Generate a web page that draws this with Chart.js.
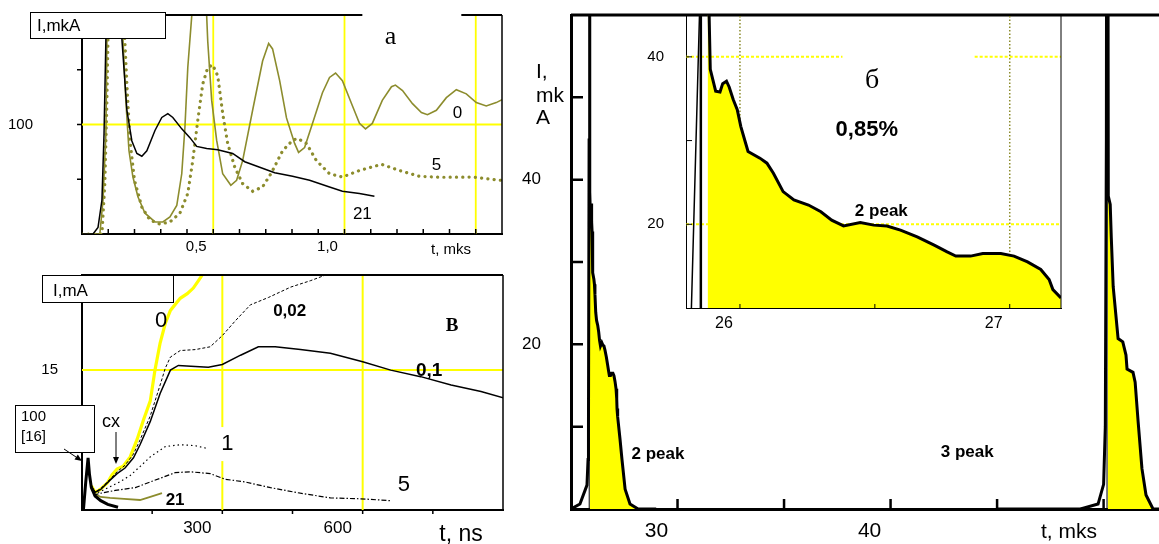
<!DOCTYPE html>
<html>
<head>
<meta charset="utf-8">
<script src="https://cdn.jsdelivr.net/npm/chart.js@4.4.1/dist/chart.umd.min.js"></script>
<style>
  body { margin: 0; background: #fff; }
  #fig { position: relative; width: 1159px; height: 544px; overflow: hidden; background: #fff; }
  #fig canvas { position: absolute; }
</style>
</head>
<body>
<div id="fig">
  <canvas id="cA"></canvas>
  <canvas id="cB"></canvas>
  <canvas id="cMain"></canvas>
  <canvas id="cInset"></canvas>
</div>
<script>
// ---- panel a : I, mkA vs t, mks ----
const aXLabels = [0.5, 1.0];
const aYLabels = [100];
const a0T  = [0, 0.06, 0.068, 0.08, 0.091, 0.095, 0.12, 0.15, 0.156, 0.167, 0.179, 0.194, 0.213, 0.24, 0.278, 0.308, 0.335, 0.361, 0.38, 0.392, 0.403, 0.418, 0.43, 0.465, 0.475, 0.479, 0.494, 0.513, 0.536, 0.567, 0.589, 0.612, 0.65, 0.688, 0.711, 0.726, 0.753, 0.779, 0.81, 0.825, 0.848, 0.878, 0.916, 0.943, 0.966, 0.992, 1.027, 1.057, 1.08, 1.106, 1.144, 1.179, 1.194, 1.221, 1.259, 1.293, 1.316, 1.35, 1.388, 1.426, 1.464, 1.502, 1.54, 1.578, 1.6];
const a0I  = [0, 0, 0, 31, 92, 178, 260, 260, 178, 122, 76, 52, 34, 19, 11, 11, 15.5, 26, 55, 97, 152, 199, 260, 260, 199, 176, 122, 85.5, 55, 44.5, 49, 67, 113, 158, 174, 169, 140, 106, 82.7, 74.5, 79, 101, 129, 143, 147, 140, 119, 101, 96, 101, 122, 134.5, 136, 131, 119, 111, 109, 113, 124.5, 131.8, 128, 120, 117, 120, 122.7];
const a5T  = [0, 0.07, 0.076, 0.087, 0.095, 0.099, 0.12, 0.155, 0.163, 0.171, 0.183, 0.2, 0.228, 0.259, 0.297, 0.335, 0.373, 0.403, 0.422, 0.441, 0.46, 0.479, 0.498, 0.517, 0.536, 0.555, 0.582, 0.612, 0.65, 0.688, 0.722, 0.764, 0.802, 0.821, 0.855, 0.893, 0.943, 0.992, 1.057, 1.141, 1.209, 1.285, 1.373, 1.487, 1.597];
const a5I  = [0, 0, 0, 46, 122, 178, 260, 260, 178, 137, 85, 49, 24.5, 12.7, 9, 11, 19, 37, 67, 103.6, 137, 152, 154.5, 144.5, 110, 82.7, 61, 46, 39, 43, 56, 76, 85.5, 87.3, 82.7, 67, 55, 52, 58, 63.6, 58, 52.7, 51.8, 52, 49];
const a21T = [0, 0.042, 0.061, 0.076, 0.084, 0.091, 0.1, 0.14, 0.152, 0.171, 0.19, 0.209, 0.228, 0.247, 0.278, 0.304, 0.327, 0.346, 0.38, 0.411, 0.437, 0.475, 0.517, 0.574, 0.62, 0.677, 0.734, 0.802, 0.867, 0.943, 0.992, 1.057, 1.114];
const a21I = [0, 0, 6, 31, 92, 178, 260, 260, 178, 113, 85, 73.6, 71, 76, 94.5, 106.4, 110, 106.4, 96, 88, 80, 78, 77, 73.6, 66, 61, 56, 52.7, 49, 43, 39, 37, 34.5];

// ---- panel в : I, mA vs t, ns ----
const bXLabels = [300, 600];
const bYLabels = [15];
const b16T  = [0, 3, 8, 13, 16, 20, 28, 40, 55, 77];
const b16I  = [0, 0, 3, 5.6, 3.8, 2.4, 1.5, 1.0, 0.6, 0.3];
const b0T   = [20, 28, 39, 54, 64, 75, 88, 103, 118, 131, 146, 156, 167, 178, 189, 210, 225, 238, 249, 257, 265];
const b0I   = [2.6, 1.9, 2.2, 2.9, 3.75, 4.4, 4.7, 5.7, 7.6, 9.6, 11.7, 15.0, 17.9, 20.0, 21.4, 22.7, 23.2, 23.8, 24.6, 25.2, 26.0];
const b002T = [20, 28, 40, 60, 75, 92, 110, 124, 146, 167, 178, 189, 210, 242, 274, 300, 328, 360, 399, 446, 489, 521, 540];
const b002I = [2.6, 1.9, 2.3, 3.3, 4.1, 4.8, 6.0, 7.5, 10.1, 13.4, 15.2, 16.4, 17.1, 17.2, 17.5, 18.7, 20.3, 22.0, 22.8, 23.9, 24.6, 25.2, 25.6];
const b01T  = [20, 28, 40, 60, 75, 92, 110, 124, 146, 167, 189, 206, 242, 270, 300, 339, 377, 413, 467, 531, 600, 660, 724, 789, 853, 902];
const b01I  = [2.6, 1.9, 2.2, 3.2, 3.9, 4.5, 5.6, 7.0, 9.5, 12.5, 15.0, 15.5, 15.4, 15.3, 15.6, 16.6, 17.5, 17.5, 17.2, 16.8, 15.9, 15.0, 14.3, 13.4, 12.7, 12.0];
const b1T   = [25, 40, 60, 80, 103, 125, 146, 178, 210, 242, 268];
const b1I   = [1.7, 2.0, 2.5, 3.0, 3.7, 4.7, 5.7, 6.8, 7.0, 6.9, 6.6];
const b5T   = [25, 40, 71, 114, 140, 167, 199, 231, 274, 306, 349, 403, 467, 531, 596, 660];
const b5I   = [1.6, 1.8, 2.1, 2.4, 2.9, 3.4, 4.0, 4.1, 3.9, 3.3, 3.0, 2.4, 1.8, 1.3, 1.2, 1.0];
const b21T  = [28, 40, 60, 90, 124, 146, 171];
const b21I  = [1.7, 1.4, 1.3, 1.2, 1.07, 1.4, 1.8];

// ---- panel б : I, mkA vs t, mks (main + inset) ----
const mainXLabels = [30, 40];
const mainYLabels = [20, 40];
const insetXLabels = [26, 27];
const insetYLabels = [20, 40];
const markT = [25.855, 50.16];
const p2RiseT = [25.0, 25.42, 25.75, 25.8, 25.82, 25.85, 25.865];
const p2RiseI = [0, 0.6, 2.9, 6, 10, 45, 150];
const p2T = [25.88, 25.885, 25.89, 25.91, 25.926, 25.936, 25.95, 25.96, 25.975, 25.99, 26.003, 26.02, 26.03, 26.074, 26.1, 26.124, 26.16, 26.2, 26.254, 26.3, 26.34, 26.384, 26.446, 26.496, 26.545, 26.595, 26.657, 26.72, 26.768, 26.8, 26.855, 26.9, 26.967, 27.016, 27.066, 27.115, 27.146, 27.16, 27.19, 27.3, 27.39, 27.54, 27.77, 28.15, 29.0];
const p2I = [150, 46, 38.5, 35.9, 35.8, 36.8, 37.1, 36.4, 34.9, 33.7, 31.7, 29.8, 28.7, 27.9, 27.3, 26.1, 23.9, 22.9, 22.3, 21.5, 20.5, 19.8, 20.2, 19.9, 19.8, 19.3, 18.5, 17.5, 16.7, 16.2, 16.2, 16.5, 16.5, 16.2, 15.5, 14.6, 13.4, 12.2, 11.2, 8.5, 6.1, 2.4, 0.6, 0, 0];
const p3RiseT = [45.0, 48.9, 49.04, 49.74, 50.0, 50.08, 50.13, 50.17];
const p3RiseI = [0, 0, 0.1, 0.6, 3, 10, 45, 150];
const p3T = [50.19, 50.22, 50.31, 50.36, 50.45, 50.68, 50.9, 51.05, 51.1, 51.38, 51.48, 51.62, 51.8, 51.99, 52.32, 52.6];
const p3I = [150, 38, 37, 33, 27, 20.7, 20.3, 18.7, 17.0, 16.6, 15.4, 10.6, 4.9, 1.7, 0, 0];

const SANS = "'Liberation Sans', Arial, sans-serif";
const SERIF = "'Liberation Serif', 'Times New Roman', serif";
const YEL = '#ffff00';
const OLIVE = '#8c8c2d';

Chart.defaults.font.family = SANS;
Chart.defaults.color = '#000';
Chart.defaults.animation = false;
Chart.defaults.events = [];

function pts(t, v) { return t.map((x, i) => ({ x: x, y: v[i] })); }

function line(data, color, width, dash, extra) {
  return Object.assign({
    data: data, borderColor: color, borderWidth: width, borderDash: dash || [],
    pointRadius: 0, tension: 0, fill: false
  }, extra || {});
}

function vline(x, y0, y1, width) {
  return line([{ x: x, y: y0 }, { x: x, y: y1 }], '#000', width);
}

function area(data) {
  return line(data, 'rgba(0,0,0,0)', 0, [], { fill: 'start', backgroundColor: YEL });
}

// drawing helpers for the decorations of the figure
function figPlugin(box, f) {
  const at = (ch, p) => p.c === 'px'
    ? [p.x - box.x, p.y - box.y]
    : [ch.scales.x.getPixelForValue(p.x), ch.scales.y.getPixelForValue(p.y)];

  function note(ctx, ch, n) {
    const [x, y] = at(ch, n);
    ctx.save();
    ctx.font = n.font;
    ctx.textAlign = n.align || 'center';
    ctx.textBaseline = 'middle';
    if (n.bg) {
      ctx.fillStyle = '#fff';
      ctx.fillRect(x - n.bg[0] / 2, y - n.bg[1] / 2, n.bg[0], n.bg[1]);
    }
    ctx.fillStyle = '#000';
    ctx.fillText(n.text, x, y);
    ctx.restore();
  }

  function arrow(ctx, a) {
    const x1 = a.x1 - box.x, y1 = a.y1 - box.y, x2 = a.x2 - box.x, y2 = a.y2 - box.y;
    const ang = Math.atan2(y2 - y1, x2 - x1), L = 7, W = 3;
    const bx = x2 - L * Math.cos(ang), by = y2 - L * Math.sin(ang);
    ctx.save();
    ctx.strokeStyle = '#000'; ctx.fillStyle = '#000'; ctx.lineWidth = 1;
    ctx.beginPath(); ctx.moveTo(x1, y1); ctx.lineTo(bx, by); ctx.stroke();
    ctx.beginPath();
    ctx.moveTo(x2, y2);
    ctx.lineTo(bx + W * Math.sin(ang), by - W * Math.cos(ang));
    ctx.lineTo(bx - W * Math.sin(ang), by + W * Math.cos(ang));
    ctx.closePath(); ctx.fill();
    ctx.restore();
  }

  return {
    id: 'fig',
    beforeDraw(ch) {
      if (!f.blank) return;
      const a = ch.chartArea, ctx = ch.ctx;
      ctx.save();
      ctx.fillStyle = '#fff';
      ctx.fillRect(a.left, a.top + 2, a.right - a.left, a.bottom - a.top - 2);
      ctx.restore();
    },
    beforeDatasetsDraw(ch) {
      const ctx = ch.ctx, sx = ch.scales.x, sy = ch.scales.y;
      (f.refs || []).forEach(r => {
        ctx.save();
        ctx.strokeStyle = r.color; ctx.lineWidth = r.width; ctx.setLineDash(r.dash || []);
        ctx.beginPath();
        if (r.axis === 'x') {
          const p = sx.getPixelForValue(r.at);
          ctx.moveTo(p, sy.getPixelForValue(r.from !== undefined ? r.from : sy.min));
          ctx.lineTo(p, sy.getPixelForValue(r.to !== undefined ? r.to : sy.max));
        } else {
          const p = sy.getPixelForValue(r.at);
          ctx.moveTo(sx.getPixelForValue(r.from !== undefined ? r.from : sx.min), p);
          ctx.lineTo(sx.getPixelForValue(r.to !== undefined ? r.to : sx.max), p);
        }
        ctx.stroke();
        ctx.restore();
      });
      (f.notes || []).filter(n => n.bg).forEach(n => note(ctx, ch, n));
    },
    afterDatasetsDraw(ch) {
      const ctx = ch.ctx, a = ch.chartArea;
      (f.frame || []).forEach(s => {
        const [x1, y1] = at(ch, { x: s[0], y: s[1] });
        const [x2, y2] = at(ch, { x: s[2], y: s[3] });
        ctx.save();
        ctx.strokeStyle = '#000'; ctx.lineWidth = s[4];
        ctx.beginPath(); ctx.moveTo(x1, y1); ctx.lineTo(x2, y2); ctx.stroke();
        ctx.restore();
      });
      (f.ticks || []).forEach(tk => {
        const s = ch.scales[tk.axis];
        ctx.save();
        ctx.strokeStyle = '#000'; ctx.lineWidth = tk.width;
        ctx.beginPath();
        s.ticks.forEach(t => {
          if (Math.abs(t.value - s.min) < 1e-6 || Math.abs(t.value - s.max) < 1e-6) return;
          const p = s.getPixelForValue(t.value);
          if (tk.axis === 'x') { ctx.moveTo(p, a.bottom); ctx.lineTo(p, a.bottom + tk.dir * tk.len); }
          else { ctx.moveTo(a.left, p); ctx.lineTo(a.left + tk.dir * tk.len, p); }
        });
        ctx.stroke();
        ctx.restore();
      });
      (f.notes || []).filter(n => !n.bg).forEach(n => note(ctx, ch, n));
      (f.boxes || []).forEach(b => {
        ctx.save();
        ctx.fillStyle = '#fff'; ctx.strokeStyle = '#000'; ctx.lineWidth = 1;
        ctx.fillRect(b.x - box.x, b.y - box.y, b.w, b.h);
        ctx.strokeRect(b.x - box.x + 0.5, b.y - box.y + 0.5, b.w, b.h);
        ctx.fillStyle = '#000'; ctx.font = b.font; ctx.textAlign = 'left'; ctx.textBaseline = 'middle';
        b.lines.forEach(l => ctx.fillText(l[0], l[1] - box.x, l[2] - box.y));
        ctx.restore();
      });
      (f.arrows || []).forEach(ar => arrow(ctx, ar));
    }
  };
}

function makeChart(id, box, ar, s) {
  const cv = document.getElementById(id);
  cv.width = box.w; cv.height = box.h;
  cv.style.left = box.x + 'px'; cv.style.top = box.y + 'px';
  const yW = ar.l - box.x, xH = box.y + box.h - ar.b;
  const pick = (list, fmt) => v => list.some(l => Math.abs(l - v) < 1e-6) ? fmt(v) : '';
  return new Chart(cv, {
    type: 'line',
    data: { datasets: s.datasets },
    options: {
      responsive: false,
      animation: false,
      layout: { padding: { left: 0, top: ar.t - box.y, right: box.x + box.w - ar.r, bottom: 0 } },
      scales: {
        x: {
          type: 'linear', min: s.x.min, max: s.x.max,
          grid: { display: false, drawTicks: false },
          border: { display: true, color: '#000', width: s.x.bw },
          ticks: {
            stepSize: s.x.step, autoSkip: false, maxRotation: 0, includeBounds: false,
            font: { size: s.x.fs }, padding: s.x.pad, labelOffset: s.x.off, color: '#000',
            callback: pick(s.x.labels, s.x.fmt || String)
          },
          afterFit: sc => { sc.height = xH; sc.paddingLeft = 0; sc.paddingRight = 0; }
        },
        y: {
          type: 'linear', min: s.y.min, max: s.y.max,
          grid: { display: false, drawTicks: false },
          border: { display: true, color: '#000', width: s.y.bw },
          ticks: {
            stepSize: s.y.step, autoSkip: false, includeBounds: false,
            font: { size: s.y.fs }, padding: s.y.pad, color: '#000',
            callback: pick(s.y.labels, String)
          },
          afterFit: sc => { sc.width = yW; sc.paddingTop = 0; sc.paddingBottom = 0; }
        }
      },
      plugins: { legend: { display: false }, tooltip: { enabled: false } }
    },
    plugins: [figPlugin(box, s.fig)]
  });
}

const f = (size, fam, bold) => (bold ? 'bold ' : '') + size + 'px ' + (fam || SANS);

// panel a
makeChart('cA', { x: 0, y: 0, w: 512, h: 270 }, { l: 82, t: 15, r: 502, b: 234 }, {
  datasets: [
    line(pts(a21T, a21I), '#000', 1.5),
    line(pts(a0T, a0I), OLIVE, 1.6),
    line(pts(a5T, a5I), OLIVE, 3.2, [0.1, 6.2], { borderCapStyle: 'round' })
  ],
  x: { min: 0, max: 1.6, step: 0.1, labels: aXLabels, fmt: v => v.toFixed(1).replace('.', ','), fs: 15, pad: 4, off: -17, bw: 2 },
  y: { min: 0, max: 200, step: 50, labels: aYLabels, fs: 15, pad: 49, bw: 2 },
  fig: {
    refs: [
      { axis: 'x', at: 0.5, color: YEL, width: 1.8 },
      { axis: 'x', at: 1.0, color: YEL, width: 1.8 },
      { axis: 'x', at: 1.5, color: YEL, width: 1.8 },
      { axis: 'y', at: 100, color: YEL, width: 1.8 }
    ],
    frame: [[0, 200, 1.068, 200, 2], [1.445, 200, 1.6, 200, 2], [1.6, 0, 1.6, 200, 1.5]],
    ticks: [{ axis: 'x', dir: -1, len: 5, width: 1.5 }, { axis: 'y', dir: -1, len: 5, width: 1.5 }],
    notes: [
      { text: '0', x: 1.43, y: 110, font: f(17) },
      { text: '5', x: 1.35, y: 62.7, font: f(17) },
      { text: '21', x: 1.068, y: 18.2, font: f(17) },
      { text: 'a', x: 1.175, y: 180, font: f(26, SERIF) },
      { text: 't, mks', x: 451, y: 250, c: 'px', font: f(15) }
    ],
    boxes: [{ x: 30, y: 12, w: 135, h: 26, font: f(17), lines: [['I,mkA', 37, 26]] }]
  }
});

// panel в
makeChart('cB', { x: 0, y: 270, w: 512, h: 274 }, { l: 82, t: 275, r: 503, b: 510 }, {
  datasets: [
    line(pts(b16T, b16I), '#000', 3),
    line(pts(b01T, b01I), '#000', 1.5),
    line(pts(b002T, b002I), '#000', 1, [3, 2]),
    line(pts(b1T, b1I), '#000', 1.2, [1.5, 3]),
    line(pts(b5T, b5I), '#000', 1.2, [5, 2, 1.5, 2]),
    line(pts(b21T, b21I), OLIVE, 1.8),
    line(pts(b0T, b0I), YEL, 3.2)
  ],
  x: { min: 0, max: 900, step: 150, labels: bXLabels, fs: 17, pad: 8, off: -25, bw: 2 },
  y: { min: 0, max: 25.2, step: 5, labels: bYLabels, fs: 15, pad: 24, bw: 2 },
  fig: {
    refs: [
      { axis: 'x', at: 300, color: YEL, width: 2 },
      { axis: 'x', at: 600, color: YEL, width: 2 },
      { axis: 'y', at: 15, color: YEL, width: 2 }
    ],
    frame: [[0, 25.2, 900, 25.2, 2], [900, 0, 900, 25.2, 1.5]],
    ticks: [{ axis: 'x', dir: 1, len: 4, width: 1.5 }],
    notes: [
      { text: '0', x: 169, y: 20.3, font: f(22) },
      { text: '0,02', x: 444, y: 21.3, font: f(17, SANS, true) },
      { text: '0,1', x: 742, y: 14.9, font: f(19, SANS, true) },
      { text: '1', x: 311, y: 7.07, font: f(22), bg: [14, 34] },
      { text: '5', x: 688, y: 2.68, font: f(22) },
      { text: '21', x: 199, y: 1.07, font: f(17, SANS, true) },
      { text: 'В', x: 791, y: 19.7, font: f(19, SERIF, true) },
      { text: 'cx', x: 62, y: 9.4, font: f(18) },
      { text: 't, ns', x: 461, y: 535, c: 'px', font: f(23) }
    ],
    boxes: [
      { x: 42, y: 275, w: 131, h: 27, font: f(17), lines: [['I,mA', 53, 291]] },
      { x: 15, y: 405, w: 79, h: 47, font: f(15), lines: [['100', 21, 417], ['[16]', 21, 437]] }
    ],
    arrows: [{ x1: 116, y1: 432, x2: 116, y2: 464 }, { x1: 64, y1: 449, x2: 82, y2: 461 }]
  }
});

// panel б, main
const mainYMax = 60;
makeChart('cMain', { x: 512, y: 0, w: 647, h: 544 }, { l: 571, t: 15, r: 1159, b: 509 }, {
  datasets: [
    line(pts(p2RiseT.concat(p2T), p2RiseI.concat(p2I)), '#000', 3),
    line(pts(p3RiseT.concat(p3T), p3RiseI.concat(p3I)), '#000', 3),
    vline(markT[0], 0, mainYMax, 1),
    vline(markT[1], 0, mainYMax, 1),
    area(pts(p2T, p2I)),
    area(pts(p3T, p3I))
  ],
  x: { min: 25, max: 52.6, step: 5, labels: mainXLabels, fs: 21, pad: 10, off: -21, bw: 3 },
  y: { min: 0, max: mainYMax, step: 10, labels: mainYLabels, fs: 17, pad: 30, bw: 3 },
  fig: {
    frame: [[25, mainYMax, 52.6, mainYMax, 3]],
    ticks: [{ axis: 'x', dir: -1, len: 10, width: 2.5 }, { axis: 'y', dir: 1, len: 12, width: 2.5 }],
    notes: [
      { text: '2 peak', x: 29.08, y: 6.6, font: f(17, SANS, true) },
      { text: '3 peak', x: 43.6, y: 6.9, font: f(17, SANS, true) },
      { text: 't, mks', x: 1069, y: 532, c: 'px', font: f(21) },
      { text: 'I,', x: 536, y: 72, c: 'px', font: f(21), align: 'left' },
      { text: 'mk', x: 536, y: 96, c: 'px', font: f(21), align: 'left' },
      { text: 'A', x: 536, y: 118, c: 'px', font: f(21), align: 'left' }
    ]
  }
});

// panel б, inset
const insetYMax = 45;
makeChart('cInset', { x: 630, y: 0, w: 450, h: 345 }, { l: 686, t: 15, r: 1061, b: 308 }, {
  datasets: [
    line(pts(p2T, p2I), '#000', 3),
    line(pts(p2RiseT, p2RiseI), '#000', 1.5),
    vline(markT[0], 10, insetYMax, 2.5),
    area(pts(p2T, p2I))
  ],
  x: { min: 25.8, max: 27.19, step: 0.5, labels: insetXLabels, fs: 16, pad: 6, off: -16, bw: 1 },
  y: { min: 10, max: insetYMax, step: 10, labels: insetYLabels, fs: 15, pad: 22, bw: 1 },
  fig: {
    blank: true,
    refs: [
      { axis: 'y', at: 40, to: 26.38, color: YEL, width: 2, dash: [3, 2] },
      { axis: 'y', at: 40, from: 26.87, color: YEL, width: 2, dash: [3, 2] },
      { axis: 'y', at: 20, color: YEL, width: 2, dash: [3, 2] },
      { axis: 'x', at: 26, color: OLIVE, width: 1.5, dash: [1.5, 2] },
      { axis: 'x', at: 27, color: OLIVE, width: 1.5, dash: [1.5, 2] }
    ],
    frame: [[27.19, 10, 27.19, insetYMax, 1]],
    ticks: [{ axis: 'x', dir: -1, len: 4, width: 1 }, { axis: 'y', dir: 1, len: 6, width: 1 }],
    notes: [
      { text: 'б', x: 26.49, y: 37.1, font: f(28, SERIF) },
      { text: '0,85%', x: 26.47, y: 31.3, font: f(22, SANS, true) },
      { text: '2 peak', x: 26.524, y: 21.5, font: f(17, SANS, true) }
    ]
  }
});
</script>
</body>
</html>
